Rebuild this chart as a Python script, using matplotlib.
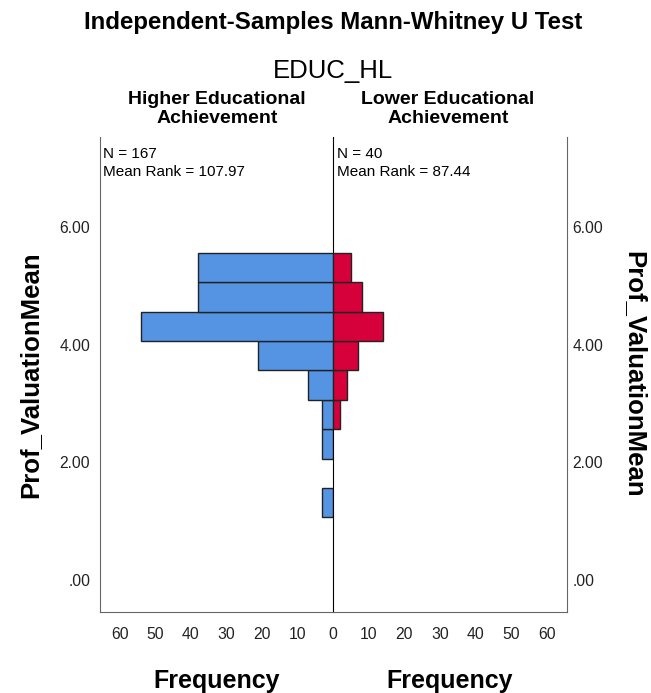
import matplotlib
matplotlib.use("Agg")
import matplotlib.pyplot as plt
import numpy as np

plt.rcParams['font.family'] = ['Liberation Sans', 'DejaVu Sans']

# histogram bins of Prof_ValuationMean (lower edges) and counts per group
bin_lower = [1.06, 1.56, 2.06, 2.56, 3.06, 3.56, 4.06, 4.56, 5.06]
higher_counts = [3, 0, 3, 3, 7, 21, 54, 38, 38]
lower_counts = [0, 0, 0, 2, 4, 7, 14, 8, 5]
bin_width = 0.5

groups = ["Higher Educational\nAchievement", "Lower Educational\nAchievement"]
n_text = ["N = 167\nMean Rank = 107.97", "N = 40\nMean Rank = 87.44"]
y_ticks = [0, 2, 4, 6]
y_ticklabels = [".00", "2.00", "4.00", "6.00"]
x_ticks = [0, 10, 20, 30, 40, 50, 60]

blue = "#5494E3"
red = "#D6003A"

fig = plt.figure(figsize=(6.51, 6.93), dpi=100)
W, H = 651, 693
bot = 1 - 612 / H
hgt = (612 - 137) / H
axL = fig.add_axes([100 / W, bot, 233 / W, hgt])
axR = fig.add_axes([333 / W, bot, 234 / W, hgt])
axR.patch.set_alpha(0)

# skip empty bins so no zero-width outline is drawn
yb = np.array(bin_lower)
hc = np.array(higher_counts)
lc = np.array(lower_counts)
axL.barh(yb[hc > 0], hc[hc > 0], height=bin_width, align='edge',
         color=blue, edgecolor="#222222", linewidth=1.0)
axR.barh(yb[lc > 0], lc[lc > 0], height=bin_width, align='edge',
         color=red, edgecolor="#222222", linewidth=1.0)

for ax in (axL, axR):
    ax.set_ylim(-0.55, 7.53)
    ax.set_yticks(y_ticks)
    ax.spines['top'].set_visible(False)
    ax.tick_params(length=0, labelsize=11.3, colors="#222222")

axL.set_xlim(65.5, 0)
axR.set_xlim(0, 65.5)
axL.set_xticks(x_ticks)
axR.set_xticks(x_ticks[1:])

axL.set_yticklabels(y_ticklabels)
axL.tick_params(axis='y', pad=7)
axR.yaxis.tick_right()
axR.set_yticklabels(y_ticklabels)
axR.tick_params(axis='y', pad=4)
axL.tick_params(axis='x', pad=11)
axR.tick_params(axis='x', pad=11)

axL.spines['right'].set_color("black")
axL.spines['right'].set_zorder(5)
axL.spines['left'].set_color("#666666")
axL.spines['bottom'].set_color("#666666")
axR.spines['left'].set_visible(False)
axR.spines['right'].set_color("#666666")
axR.spines['bottom'].set_color("#666666")

for ax, txt in zip((axL, axR), n_text):
    ax.text(0.015, 0.978, txt, transform=ax.transAxes, ha='left', va='top',
            fontsize=11, linespacing=1.3)

axL.set_xlabel("Frequency", fontsize=18, fontweight='bold', labelpad=19)
axR.set_xlabel("Frequency", fontsize=18, fontweight='bold', labelpad=19)
axL.set_ylabel("Prof_ValuationMean", fontsize=18.5, fontweight='bold', labelpad=12)
axR.yaxis.set_label_position('right')
axR.set_ylabel("Prof_ValuationMean", fontsize=18.5, fontweight='bold',
               rotation=270, labelpad=31)

fig.text(333 / W, 1 - 22 / H, "Independent-Samples Mann-Whitney U Test",
         ha='center', va='center', fontsize=17.3, fontweight='bold')
fig.text(333 / W, 1 - 71 / H, "EDUC_HL", ha='center', va='center', fontsize=18.5)
fig.text(217 / W, 1 - 109 / H, groups[0], ha='center', va='center',
         fontsize=14, fontweight='bold', linespacing=1.2)
fig.text(448 / W, 1 - 109 / H, groups[1], ha='center', va='center',
         fontsize=14, fontweight='bold', linespacing=1.2)

fig.savefig("out.png", dpi=100)
